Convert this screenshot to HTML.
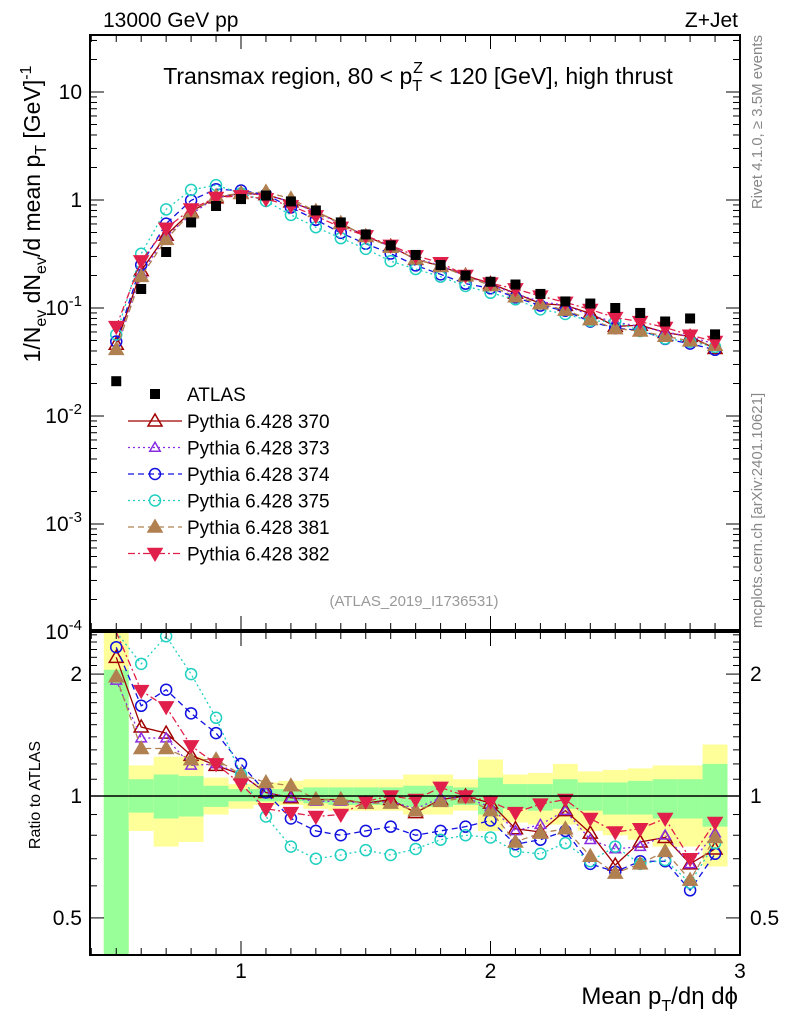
<!DOCTYPE html>
<html><head><meta charset="utf-8"><style>
body{margin:0;background:#fff}
svg text{font-family:"Liberation Sans",sans-serif}
</style></head><body>
<svg id="c" width="786" height="1024" xmlns="http://www.w3.org/2000/svg">
<g id="bands"></g>
<g id="series"></g>
<g id="axes"></g>
<text x="103" y="27" font-size="21">13000 GeV pp</text>
<text x="738" y="27" font-size="21" text-anchor="end">Z+Jet</text>
<text x="418" y="84" font-size="23" text-anchor="middle">Transmax region, 80 &lt; p<tspan font-size="16" dy="7">T</tspan><tspan font-size="16" dy="-18" dx="-9">Z</tspan><tspan dy="11"> &lt; 120 [GeV], high thrust</tspan></text>
<text x="414" y="606" font-size="15" fill="#999" text-anchor="middle">(ATLAS_2019_I1736531)</text>
<text transform="translate(762,35) rotate(-90)" font-size="15" fill="#888" text-anchor="end">Rivet 4.1.0, ≥ 3.5M events</text>
<text transform="translate(762,628) rotate(-90)" font-size="15" fill="#888">mcplots.cern.ch [arXiv:2401.10621]</text>
<text transform="translate(40,214) rotate(-90)" font-size="23" text-anchor="middle">1/N<tspan font-size="16" dy="6">ev</tspan><tspan dy="-6"> dN</tspan><tspan font-size="16" dy="6">ev</tspan><tspan dy="-6">/d mean p</tspan><tspan font-size="16" dy="6">T</tspan><tspan dy="-6"> [GeV]</tspan><tspan font-size="16" dy="-9">-1</tspan></text>
<text transform="translate(40,795) rotate(-90)" font-size="16" text-anchor="middle">Ratio to ATLAS</text>
<text x="738" y="1004" font-size="24" text-anchor="end">Mean p<tspan font-size="16" dy="7">T</tspan><tspan dy="-7">/dη dϕ</tspan></text>
<g id="legend"></g>
</svg>
<script>
const xs=[0.5,0.6,0.7,0.8,0.9,1.0,1.1,1.2,1.3,1.4,1.5,1.6,1.7,1.8,1.9,2.0,2.1,2.2,2.3,2.4,2.5,2.6,2.7,2.8,2.9];
const atlas=[0.021,0.15,0.33,0.62,0.88,1.02,1.1,0.97,0.8,0.62,0.48,0.38,0.31,0.25,0.2,0.175,0.165,0.135,0.115,0.11,0.1,0.09,0.075,0.08,0.057];
const r370=[2.2,1.48,1.43,1.26,1.19,1.13,1.02,0.99,0.98,0.98,0.96,0.98,0.91,0.98,1.0,0.96,0.83,0.815,0.92,0.81,0.675,0.77,0.79,0.68,0.74];
const r373=[1.93,1.39,1.39,1.19,1.2,1.13,1.02,0.99,0.97,0.97,0.96,0.97,0.93,0.99,0.99,0.94,0.82,0.85,0.92,0.78,0.74,0.75,0.8,0.68,0.81];
const r374=[2.33,1.67,1.83,1.6,1.43,1.2,1.02,0.88,0.82,0.8,0.82,0.84,0.8,0.82,0.84,0.87,0.76,0.78,0.82,0.68,0.65,0.69,0.69,0.585,0.72];
const r375=[2.7,2.12,2.48,2.0,1.56,1.13,0.89,0.75,0.7,0.715,0.735,0.715,0.74,0.78,0.8,0.79,0.73,0.72,0.765,0.69,0.75,0.68,0.695,0.61,0.765];
const r381=[1.97,1.31,1.31,1.23,1.23,1.13,1.08,1.06,0.98,0.98,0.96,0.96,0.92,0.97,0.99,0.92,0.77,0.81,0.83,0.71,0.645,0.68,0.73,0.62,0.79];
const r382=[3.2,1.82,1.66,1.33,1.2,1.07,0.93,0.91,0.89,0.9,0.97,1.0,0.98,1.05,1.0,0.97,0.91,0.955,0.98,0.88,0.815,0.83,0.88,0.7,0.86];
const yelHi=[3,1.19,1.25,1.25,1.11,1.07,1.08,1.09,1.1,1.1,1.1,1.1,1.13,1.13,1.1,1.23,1.13,1.14,1.2,1.15,1.16,1.17,1.19,1.19,1.34];
const yelLo=[0.3,0.82,0.75,0.77,0.9,0.93,0.95,0.95,0.93,0.92,0.92,0.92,0.9,0.9,0.92,0.82,0.86,0.85,0.85,0.82,0.8,0.78,0.75,0.75,0.67];
const grnHi=[2.05,1.1,1.13,1.12,1.06,1.04,1.04,1.04,1.05,1.05,1.05,1.05,1.06,1.06,1.05,1.11,1.07,1.07,1.1,1.08,1.08,1.09,1.1,1.1,1.2];
const grnLo=[0.3,0.91,0.88,0.89,0.94,0.97,0.97,0.97,0.96,0.95,0.95,0.95,0.94,0.94,0.95,0.9,0.93,0.92,0.93,0.92,0.9,0.9,0.88,0.88,0.84];
const yTickLabels=["10","1","10","10","10","10"];
const NS="http://www.w3.org/2000/svg";
const L=90,R=740,T=35,B=630,RT=632,RB=955;
const X=v=>241+(v-1)*249.5;
const Y=v=>200-108*Math.log10(v);
const RY=v=>Math.min(RB,Math.max(RT,796-405*Math.log10(v)));
function mk(p,tag,a){const e=document.createElementNS(NS,tag);for(const k in a)e.setAttribute(k,a[k]);p.appendChild(e);return e;}
const bands=document.getElementById('bands'),ser=document.getElementById('series'),ax=document.getElementById('axes');
xs.forEach((x,i)=>{
 let e=mk(bands,'rect',{x:X(x-0.05),width:249.5*0.1,y:RY(yelHi[i]),height:RY(yelLo[i])-RY(yelHi[i]),fill:'#ffff99'});
 
 e=mk(bands,'rect',{x:X(x-0.05),width:249.5*0.1,y:RY(grnHi[i]),height:RY(grnLo[i])-RY(grnHi[i]),fill:'#99ff99'});
 
});
const series=[
 {r:r370,c:'#a00000',d:'',m:'tri',f:false,n:'Pythia 6.428 370'},
 {r:r373,c:'#8a2be2',d:'2,3',m:'tri',f:false,n:'Pythia 6.428 373',s:0.75},
 {r:r374,c:'#1010e0',d:'6,4',m:'circ',f:false,n:'Pythia 6.428 374'},
 {r:r375,c:'#20d0c0',d:'2,3',m:'circ',f:false,n:'Pythia 6.428 375'},
 {r:r381,c:'#b08050',d:'6,4',m:'tri',f:true,n:'Pythia 6.428 381'},
 {r:r382,c:'#e0204a',d:'7,3,2,3',m:'dtri',f:true,n:'Pythia 6.428 382'}];
function marker(p,m,x,y,c,f,s){s=s||1;let e;
 if(m==='tri')e=mk(p,'polygon',{points:`${x},${y-7*s} ${x-7*s},${y+5*s} ${x+7*s},${y+5*s}`});
 else if(m==='dtri')e=mk(p,'polygon',{points:`${x},${y+7} ${x-7},${y-5} ${x+7},${y-5}`});
 else e=mk(p,'circle',{cx:x,cy:y,r:5.5});
 e.setAttribute('fill',f?c:'none');e.setAttribute('stroke',c);e.setAttribute('stroke-width',1.5);
 }
mk(ax,'line',{x1:L,x2:R,y1:796,y2:796,stroke:'#000','stroke-width':1.5});
series.forEach(s=>{
 const g=mk(ser,'g',{});
 const main=xs.map((x,i)=>[X(x),Y(s.r[i]*atlas[i])]);
 const rat=xs.map((x,i)=>[X(x),RY(s.r[i])]);
 [main,rat].forEach(pts=>{
  const pl=mk(g,'polyline',{points:pts.map(p=>p.join(',')).join(' '),fill:'none',stroke:s.c,'stroke-width':1.3});
  if(s.d)pl.setAttribute('stroke-dasharray',s.d);
  
  pts.forEach(p=>{if(p[1]>RT&&p[1]<RB||p[1]<B)marker(g,s.m,p[0],p[1],s.c,s.f,s.s);});
 });
});
xs.forEach((x,i)=>{const e=mk(ser,'rect',{x:X(x)-5,y:Y(atlas[i])-5,width:10,height:10,fill:'#000'});
 });
[[T,B],[RT,RB]].forEach(([a,b])=>{const e=mk(ax,'rect',{x:L,y:a,width:R-L,height:b-a,fill:'none',stroke:'#000','stroke-width':2});
 });
for(let k=4;k<=30;k++){const v=k/10,x=X(v);if(x<L||x>R)continue;const big=k%10===0;
 [[T,1],[B,-1],[RT,1],[RB,-1]].forEach(([y,d])=>mk(ax,'line',{x1:x,x2:x,y1:y,y2:y+d*(big?14:7),stroke:'#000'}));
 if(big){const t=mk(ax,'text',{x:x,y:978,'font-size':21,'text-anchor':'middle'});t.textContent=String(k/10);
  }}
for(let e=-4;e<=1;e++){for(let m=1;m<10;m++){const v=m*Math.pow(10,e),y=Y(v);if(y<T||y>B+1)continue;
 const len=m===1?14:7;mk(ax,'line',{x1:L,x2:L+len,y1:y,y2:y,stroke:'#000'});mk(ax,'line',{x1:R,x2:R-len,y1:y,y2:y,stroke:'#000'});}
 const t=mk(ax,'text',{x:82,y:Y(Math.pow(10,e))+7,'font-size':21,'text-anchor':'end'});
 t.textContent=yTickLabels[1-e];
 if(e<0){const sp=mk(t,'tspan',{'font-size':15,dy:-9});sp.textContent=String(e);}
 }
for(let m=2;m<=3;m++){const y=Y(m*10);mk(ax,'line',{x1:L,x2:L+7,y1:y,y2:y,stroke:'#000'});mk(ax,'line',{x1:R,x2:R-7,y1:y,y2:y,stroke:'#000'});}
[0.5,0.6,0.7,0.8,0.9,1,1.1,1.2,1.3,1.4,1.5,1.6,1.7,1.8,1.9,2,2.1,2.2,2.3,2.4,2.5].forEach(v=>{const y=RY(v);
 const len=(v===0.5||v===1||v===2)?14:7;mk(ax,'line',{x1:L,x2:L+len,y1:y,y2:y,stroke:'#000'});mk(ax,'line',{x1:R,x2:R-len,y1:y,y2:y,stroke:'#000'});});
[0.5,1,2].forEach(v=>{[[82,'end'],[750,'start']].forEach(([x,a])=>{const t=mk(ax,'text',{x:x,y:RY(v)+7,'font-size':21,'text-anchor':a});
 t.textContent=String(v);});});
const lg=document.getElementById('legend');
let t=mk(lg,'rect',{x:150,y:389,width:10,height:10,fill:'#000'});


t=mk(lg,'text',{x:187,y:401,'font-size':19});t.textContent='ATLAS';


series.forEach((s,i)=>{const y=421+i*26.5;const g=mk(lg,'g',{});
 
 const l=mk(g,'line',{x1:128,x2:182,y1:y,y2:y,stroke:s.c,'stroke-width':1.3});if(s.d)l.setAttribute('stroke-dasharray',s.d);
 marker(g,s.m,155,y,s.c,s.f,s.s);
 const tx=mk(g,'text',{x:187,y:y+7,'font-size':19});tx.textContent=s.n;});
</script>
</body></html>
